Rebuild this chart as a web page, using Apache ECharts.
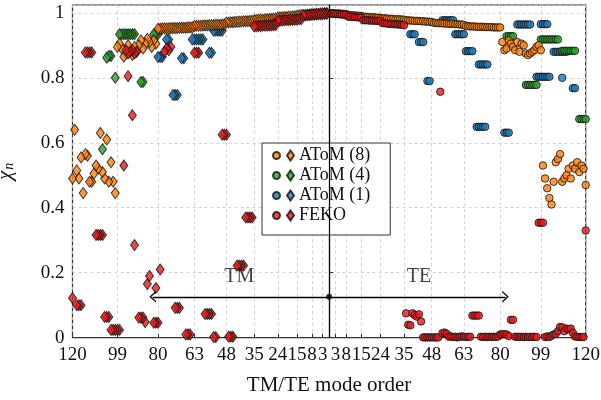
<!DOCTYPE html>
<html><head><meta charset="utf-8">
<script src="https://cdn.jsdelivr.net/npm/echarts@6/dist/echarts.min.js"></script>
<style>html,body{margin:0;padding:0;background:#fff}#c{width:601px;height:400px}</style>
</head><body><div id="c"></div>
<script>
// x tick labels (mode order, mirrored for TM on the left / TE on the right)
const tickModes = [120, 99, 80, 63, 48, 35, 24, 15, 8, 3];
const yTicks = [0, 0.2, 0.4, 0.6, 0.8, 1];

// AToM (8): value for every mode n = 1..120
const atom8TM = [
 0.999,0.999,0.998,
 0.998,0.997,0.997,0.996,0.996,
 0.995,0.994,0.994,0.993,0.993,0.992,0.991,
 0.989,0.989,0.988,0.988,0.987,0.987,0.986,0.986,0.985,
 0.982,0.982,0.981,0.981,0.980,0.980,0.979,0.979,0.978,0.978,0.977,
 0.975,0.975,0.974,0.974,0.974,0.973,0.973,0.972,0.972,0.971,0.971,0.970,0.970,
 0.964,0.964,0.963,0.963,0.963,0.962,0.962,0.962,0.961,0.961,0.961,0.960,0.960,0.960,0.959,
 0.955,0.955,0.955,0.954,0.954,0.954,0.954,0.953,0.953,0.953,0.953,0.952,0.952,0.952,0.952,0.951,0.951,
 0.905,0.915,0.895,0.910,0.920,0.905,0.890,0.915,0.900,0.880,0.895,0.870,0.885,0.900,0.875,0.865,0.890,0.905,0.895,
 0.445,0.480,0.540,0.480,0.610,0.490,0.510,0.630,0.520,0.530,0.505,0.480,0.480,0.560,0.565,0.445,0.555,0.490,0.515,0.640,0.490
];
const atom8TE = [
 0.999,0.999,0.998,
 0.998,0.998,0.997,0.997,0.996,
 0.993,0.993,0.992,0.992,0.991,0.991,0.990,
 0.988,0.988,0.987,0.987,0.986,0.986,0.985,0.985,0.984,
 0.983,0.983,0.982,0.982,0.981,0.981,0.980,0.980,0.980,0.979,0.979,
 0.977,0.977,0.976,0.976,0.975,0.975,0.975,0.974,0.974,0.973,0.973,0.972,0.972,
 0.969,0.969,0.968,0.968,0.968,0.967,0.967,0.966,0.966,0.966,0.965,0.965,0.964,0.964,0.963,
 0.959,0.959,0.958,0.958,0.958,0.957,0.957,0.957,0.957,0.956,0.956,0.956,0.956,0.955,0.955,0.955,0.955,
 0.910,0.885,0.890,0.915,0.905,0.895,0.885,0.910,0.880,0.905,0.900,0.875,0.870,0.875,0.880,0.885,0.895,0.900,0.885,
 0.530,0.490,0.460,0.430,0.410,0.480,0.540,0.550,0.565,0.480,0.490,0.500,0.520,0.490,0.530,0.520,0.540,0.510,0.530,0.520,0.470
];

// AToM (4): visible points [mode n, value]
const atom4TM = [
 [80,0.934],[81,0.934],[82,0.934],
 [87,0.787],[88,0.787],
 [91,0.934],[92,0.934],[93,0.934],[94,0.934],[95,0.934],[96,0.934],[97,0.934],[98,0.934],
 [100,0.800],
 [102,0.867],[103,0.867],[104,0.862],
 [106,0.580]
];
const atom4TE = [
 [83,0.928],[84,0.928],[85,0.928],[86,0.928],
 [92,0.778],[93,0.778],[94,0.778],[95,0.778],[96,0.778],[97,0.778],
 [99,0.918],[100,0.918],[101,0.918],[102,0.918],[103,0.918],[104,0.918],[105,0.918],[106,0.918],[107,0.918],
 [109,0.883],[110,0.883],[111,0.883],[112,0.883],[113,0.883],[114,0.883],[115,0.883],
 [117,0.673],[118,0.673],[119,0.673],[120,0.673]
];

// AToM (1): visible points [mode n, value]
const atom1TM = [
 [50,0.945],[51,0.945],[52,0.945],[53,0.945],[54,0.945],
 [55,0.877],[56,0.877],
 [59,0.918],[60,0.918],[61,0.918],[62,0.918],[63,0.918],[64,0.918],
 [68,0.860],[69,0.860],
 [71,0.747],[72,0.747],[73,0.747],
 [75,0.918],[76,0.918],
 [78,0.864],[79,0.864],[80,0.864]
];
const atom1TE = [
 [38,0.934],[39,0.934],[40,0.934],
 [42,0.910],[43,0.910],[44,0.910],
 [46,0.790],[47,0.790],
 [53,0.977],[54,0.977],[55,0.977],[56,0.977],[57,0.977],[58,0.977],
 [59,0.934],[60,0.934],[61,0.934],[62,0.934],[63,0.934],
 [64,0.882],[65,0.882],[66,0.882],[67,0.882],
 [69,0.649],[70,0.841],[70,0.649],[71,0.841],[71,0.649],[72,0.841],[72,0.649],[73,0.841],[73,0.649],[74,0.841],
 [82,0.631],[83,0.631],[84,0.631],
 [88,0.964],[89,0.964],[90,0.964],[91,0.964],[92,0.964],[93,0.964],[94,0.964],
 [97,0.803],[98,0.803],[99,0.803],[99,0.965],[100,0.965],[100,0.803],[101,0.965],[101,0.803],[102,0.965],[102,0.803],[103,0.803],
 [105,0.880],[106,0.880],[107,0.880],[108,0.880],[109,0.880],[109,0.800],[110,0.880],[111,0.880],
 [114,0.768],[115,0.768]
];

// FEKO: [mode n, value]
const fekoTM = [
 [1,0.997],[2,0.997],[3,0.996],[4,0.996],[5,0.995],[6,0.995],[7,0.994],[8,0.994],[9,0.993],[10,0.993],[11,0.992],[12,0.992],
 [13,0.980],[14,0.980],[15,0.979],[16,0.979],[17,0.978],[18,0.978],[19,0.977],[20,0.977],[21,0.977],[22,0.976],[23,0.976],[24,0.976],
 [25,0.962],[26,0.962],[27,0.961],[28,0.961],[29,0.960],[30,0.960],[31,0.960],[32,0.959],[33,0.959],[34,0.958],[35,0.958],
 [36,0.370],[37,0.370],[38,0.370],[39,0.370],
 [40,0.222],[41,0.222],[42,0.222],[43,0.222],
 [45,0.003],[46,0.003],[47,0.003],
 [48,0.625],[49,0.625],[50,0.625],
 [53,0.002],[54,0.002],
 [55,0.073],[56,0.073],[57,0.073],[58,0.073],
 [61,0.877],[62,0.877],[63,0.877],
 [65,0.010],[66,0.010],[67,0.010],
 [70,0.092],[71,0.092],[72,0.092],
 [74,0.895],[75,0.885],[76,0.890],[77,0.880],
 [79,0.210],[80,0.046],[81,0.046],[81,0.153],[82,0.046],[84,0.190],[85,0.165],[86,0.048],[87,0.062],[88,0.062],[89,0.062],
 [90,0.880],[91,0.875],[91,0.285],[92,0.885],[92,0.685],[93,0.880],[94,0.875],[94,0.805],[95,0.885],[96,0.530],
 [98,0.024],[99,0.024],[100,0.024],[101,0.024],[102,0.024],
 [103,0.064],[104,0.064],[105,0.064],
 [106,0.316],[107,0.316],[108,0.316],[109,0.316],
 [111,0.878],[112,0.878],[113,0.878],[114,0.878],
 [116,0.100],[117,0.100],[118,0.100],
 [120,0.122]
];
const fekoTE = [
 [1,0.997],[2,0.997],[3,0.996],[4,0.996],[5,0.995],[6,0.995],[7,0.994],[8,0.993],
 [9,0.988],[10,0.988],[11,0.987],[12,0.987],[13,0.986],[14,0.986],[15,0.985],
 [16,0.977],[17,0.977],[18,0.977],[19,0.976],[20,0.976],[21,0.976],[22,0.975],[23,0.975],[24,0.975],
 [25,0.968],[26,0.968],[27,0.967],[28,0.966],[29,0.966],[30,0.965],[31,0.965],[32,0.964],[33,0.964],[34,0.963],[35,0.962],
 [36,0.075],[37,0.040],[38,0.038],[39,0.075],[40,0.070],[41,0.065],[42,0.072],[43,0.050],
 [44,0.001],[45,0.001],[46,0.001],[47,0.001],[48,0.001],[49,0.001],[50,0.001],[51,0.001],
 [52,0.757],[53,0.014],[54,0.016],[55,0.012],
 [56,0.003],[57,0.004],[58,0.002],[59,0.003],[60,0.001],[61,0.003],[62,0.004],[63,0.003],[64,0.002],[65,0.003],[66,0.003],
 [67,0.068],[68,0.068],[69,0.068],[70,0.068],
 [71,0.003],[72,0.002],[73,0.003],[74,0.002],[75,0.003],[76,0.002],[77,0.003],[78,0.002],[79,0.004],[80,0.010],[81,0.010],[82,0.011],[83,0.010],[84,0.005],
 [85,0.055],[86,0.055],
 [87,0.003],[88,0.003],[89,0.002],[90,0.003],[91,0.002],[92,0.003],[93,0.002],[94,0.003],[95,0.002],[96,0.003],[97,0.002],
 [98,0.354],[99,0.354],[100,0.354],
 [101,0.002],[102,0.004],[103,0.002],[104,0.006],[105,0.010],[106,0.012],[107,0.020],[108,0.033],[109,0.032],[110,0.020],
 [111,0.028],[112,0.026],[113,0.028],[114,0.015],[115,0.004],[116,0.003],[117,0.002],[118,0.002],[119,0.002],[120,0.330]
];

// annotation: TM/TE arrow
const arrowY = 0.126;
const arrowEnd = 82.5;
const annLabels = [['TM', -42, 0.188], ['TE', 42, 0.188]];

const FONT = '"Liberation Serif", "DejaVu Serif", serif';
const C = {a8:'#ff7f0e', a4:'#2ca02c', a1:'#1f77b4', fe:'#e3191c'};
const DIA = [8, 11], CIR = 7.5;

const xTickVals = tickModes.map(v => -v).concat(tickModes.slice().reverse());
const tmPts = arr => arr.map(p => [-p[0], p[1]]);
const tePts = arr => arr.map(p => [p[0], p[1]]);
const fullTM = vals => vals.map((v, i) => [-(i + 1), v]);
const fullTE = vals => vals.map((v, i) => [i + 1, v]);

function sc(name, data, color, symbol, size) {
  return {type:'scatter', name, data, symbol, symbolSize:size, silent:true,
    itemStyle:{color, borderColor:'#111', borderWidth:1}};
}
const chevron = 'path://M0,10L5,0L10,10L8.6,10L5,2.8L1.4,10Z';

const chart = echarts.init(document.getElementById('c'), null, {renderer:'canvas'});
chart.setOption({
  animation:false,
  backgroundColor:'#fff',
  textStyle:{fontFamily:FONT},
  grid:{left:72.5, right:15.3, top:5, bottom:62.3, show:true, borderColor:'#333', borderWidth:1.2,
    containLabel:false, outerBoundsMode:'none'},
  xAxis:{type:'value', min:-120, max:120,
    axisLine:{onZero:false, lineStyle:{color:'#333', width:1.2}},
    axisTick:{inside:true, length:4, customValues:xTickVals, lineStyle:{color:'#333'}},
    axisLabel:{customValues:xTickVals, formatter:v => String(Math.abs(v)), fontFamily:FONT, fontSize:19, color:'#111', margin:8},
    splitLine:{show:true, lineStyle:{type:[3,3], color:'#c8c8c8', width:0.8}},
    name:'TM/TE mode order', nameLocation:'middle', nameGap:37,
    nameTextStyle:{fontFamily:FONT, fontSize:21, color:'#111'}},
  yAxis:{type:'value', min:0, max:1.024, interval:0.2,
    axisLine:{show:true, lineStyle:{color:'#333', width:1.2}},
    axisTick:{show:true, inside:true, length:4, lineStyle:{color:'#333'}},
    axisLabel:{fontFamily:FONT, fontSize:19, color:'#111', margin:8, showMaxLabel:false,
      formatter:v => yTicks.includes(Math.round(v*10)/10) ? String(Math.round(v*10)/10) : ''},
    splitLine:{show:true, lineStyle:{type:[3,3], color:'#c8c8c8', width:0.8}},
    name:'{c|χ}{s|n}', nameLocation:'middle', nameGap:56, nameRotate:90,
    nameTextStyle:{color:'#111', rich:{
      c:{fontFamily:FONT, fontSize:21, fontStyle:'italic', color:'#111'},
      s:{fontFamily:FONT, fontSize:14, fontStyle:'italic', color:'#111', padding:[9,0,0,1]}}}},
  legend:[
    {data:['AToM (8)','AToM (4)','AToM (1)','FEKO'], orient:'vertical', left:262, top:143,
      padding:[3,20,10,24], itemGap:1, itemWidth:7, itemHeight:10, selectedMode:false,
      backgroundColor:'#fff', borderColor:'#333', borderWidth:1, borderRadius:0,
      textStyle:{fontFamily:FONT, fontSize:18, color:'#111', lineHeight:19}},
    {data:['AToM (8) TE','AToM (4) TE','AToM (1) TE','FEKO TE'], orient:'vertical', left:272, top:146,
      padding:0, itemGap:1, itemWidth:7, itemHeight:7, selectedMode:false, z:10, formatter:() => ' ',
      textStyle:{fontFamily:FONT, fontSize:18, lineHeight:19}}
  ],
  series:[
    sc('AToM (1)', tmPts(atom1TM), C.a1, 'diamond', DIA),
    sc('AToM (1) TE', tePts(atom1TE), C.a1, 'circle', CIR),
    sc('AToM (4)', tmPts(atom4TM), C.a4, 'diamond', DIA),
    sc('AToM (4) TE', tePts(atom4TE), C.a4, 'circle', CIR),
    sc('AToM (8)', fullTM(atom8TM), C.a8, 'diamond', DIA),
    sc('AToM (8) TE', fullTE(atom8TE), C.a8, 'circle', CIR),
    sc('FEKO', tmPts(fekoTM), C.fe, 'diamond', DIA),
    sc('FEKO TE', tePts(fekoTE), C.fe, 'circle', CIR),
    {type:'scatter', name:'center', silent:true, z:5, data:[[0, arrowY]], symbolSize:6,
      itemStyle:{color:'#000'},
      markLine:{silent:true, animation:false, symbol:['none', chevron], symbolSize:[12, 6.5],
        label:{show:false}, lineStyle:{color:'#000', width:1.3, type:'solid'},
        data:[
          [{coord:[0, arrowY]}, {coord:[-arrowEnd, arrowY]}],
          [{coord:[0, arrowY]}, {coord:[arrowEnd, arrowY]}]
        ]}},
    {type:'scatter', name:'vline', silent:true, z:4, data:[], 
      markLine:{silent:true, animation:false, symbol:'none', label:{show:false},
        lineStyle:{color:'#000', width:1.2, type:'solid'}, data:[{xAxis:0}]}},
    {type:'scatter', name:'labels', silent:true, z:6, symbolSize:1,
      itemStyle:{color:'rgba(0,0,0,0)'},
      data:annLabels.map(a => ({name:a[0], value:[a[1], a[2]]})),
      label:{show:true, position:'inside', formatter:p => p.name, fontFamily:FONT, fontSize:20, color:'#111'}}
  ]
});
</script></body></html>
